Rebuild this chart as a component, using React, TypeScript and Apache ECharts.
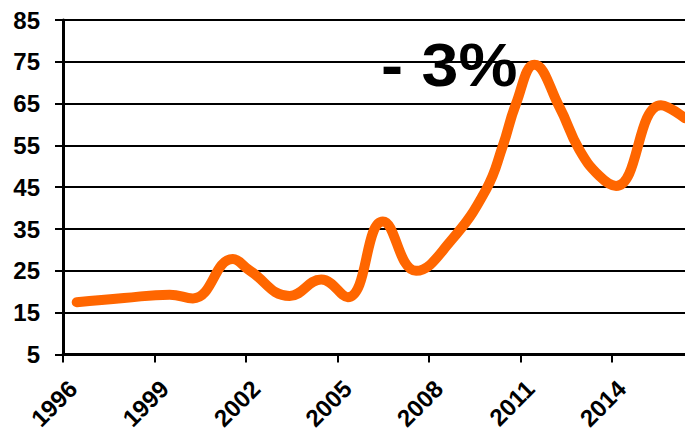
import React, { useEffect, useRef } from "react";
import * as echarts from "echarts";

const years: number[] = [
  1996.45, 1998.0, 1999.5, 2000.26, 2001.57, 2002.1, 2003.43, 2004.47, 2005.34,
  2006.49, 2007.58, 2008.7, 2009.88, 2010.42, 2010.86, 2011.46, 2012.28,
  2012.93, 2013.59, 2014.14, 2015.61, 2016.4,
];
const values: number[] = [
  17.5, 18.5, 19.3, 18.4, 27.8, 25.2, 19, 22.9, 18.7, 36.8, 25, 32, 44.5, 54.8,
  65, 74.3, 64.2, 54, 47.7, 45.3, 64.6, 61.5,
];
const xStartYear = 1996;
const xEndYear = 2016.4;
const xStep = 3;
const yMin = 5;
const yMax = 85;
const yStep = 10;
const annotation = "- 3%";

const FONT = '"Liberation Sans", Arial, Helvetica, sans-serif';

export default function App() {
  const ref = useRef<HTMLDivElement>(null);
  useEffect(() => {
    if (!ref.current) return;
    const chart = echarts.init(ref.current, undefined, { renderer: "svg" });
    const data = years.map((y, i) => [y - xStartYear, values[i] - yMin]);
    chart.setOption({
      animation: false,
      backgroundColor: "#ffffff",
      grid: { left: 63, right: 0, top: 20, bottom: 76, containLabel: false },
      xAxis: {
        type: "value",
        min: 0,
        max: xEndYear - xStartYear,
        interval: xStep,
        axisLine: { show: true, lineStyle: { color: "#000", width: 3 } },
        axisTick: { show: true, length: 8, lineStyle: { color: "#000", width: 2 } },
        splitLine: { show: false },
        axisLabel: {
          rotate: 45,
          margin: 9,
          verticalAlign: "top",
          padding: [10, 8, 0, 0],
          color: "#000",
          fontFamily: FONT,
          fontWeight: "bold",
          fontSize: 24,
          showMaxLabel: false,
          formatter: (v: number) =>
            Math.abs(v % xStep) < 1e-6 ? String(Math.round(v + xStartYear)) : "",
        },
      },
      yAxis: {
        type: "value",
        min: 0,
        max: yMax - yMin,
        interval: yStep,
        axisLine: { show: true, lineStyle: { color: "#000", width: 3 } },
        axisTick: { show: true, length: 8, lineStyle: { color: "#000", width: 2 } },
        splitLine: { show: true, lineStyle: { color: "#000", width: 2 } },
        axisLabel: {
          margin: 23,
          color: "#000",
          fontFamily: FONT,
          fontWeight: "bold",
          fontSize: 24,
          formatter: (v: number) => String(Math.round(v + yMin)),
        },
      },
      series: [
        {
          type: "line",
          data,
          smooth: 0.45,
          showSymbol: false,
          symbol: "none",
          lineStyle: { color: "#FF6600", width: 10, cap: "round", join: "round" },
          z: 5,
        },
      ],
      graphic: [
        {
          type: "text",
          x: 381,
          y: 65,
          scaleX: 1.07,
          z: 10,
          style: {
            text: annotation,
            fill: "#000",
            font: `bold 62px ${FONT}`,
            verticalAlign: "middle",
            align: "left",
          },
        },
      ],
    });
    return () => chart.dispose();
  }, []);
  return (
    <div
      ref={ref}
      style={{ position: "fixed", left: 0, top: 0, width: 685, height: 433 }}
    />
  );
}
